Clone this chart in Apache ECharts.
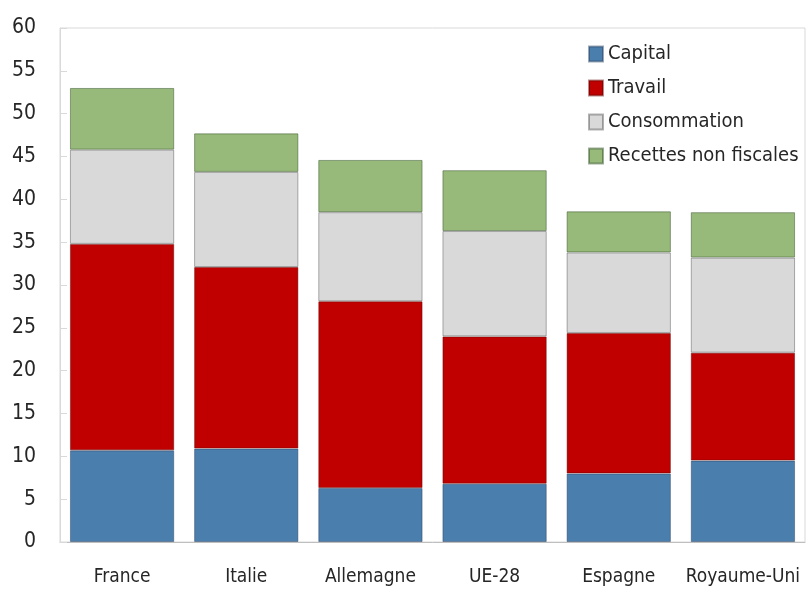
<!DOCTYPE html>
<html>
<head>
<meta charset="utf-8">
<script src="https://cdn.jsdelivr.net/npm/echarts@6/dist/echarts.min.js"></script>
<style>
  html, body { margin: 0; padding: 0; background: #fff; }
  #chart { width: 806px; height: 590px; }
</style>
</head>
<body>
<div id="chart"></div>
<script>
// pays
var countries = ['France', 'Italie', 'Allemagne', 'UE-28', 'Espagne', 'Royaume-Uni'];
// recettes en % du PIB, par composante
var capital = [10.7, 10.9, 6.3, 6.8, 8.0, 9.5];
var travail = [24.1, 21.2, 21.8, 17.2, 16.4, 12.6];
var consommation = [11.0, 11.1, 10.4, 12.3, 9.4, 11.1];
var nonFiscales = [7.2, 4.5, 6.1, 7.1, 4.8, 5.3];
var yTicks = [0, 5, 10, 15, 20, 25, 30, 35, 40, 45, 50, 55, 60];

var font = '"DejaVu Sans Condensed", "Liberation Sans", sans-serif';

var chart = echarts.init(document.getElementById('chart'), null, { renderer: 'canvas' });

function serie(name, data, color, border) {
  return {
    name: name,
    type: 'bar',
    stack: 'total',
    barCategoryGap: '16%',
    data: data,
    itemStyle: {
      color: color,
      borderColor: border,
      borderWidth: 1
    }
  };
}

var option = {
  animation: false,
  grid: {
    left: 60,
    right: 1,
    top: 28,
    bottom: 48,
    show: true,
    borderColor: '#d9d9d9',
    borderWidth: 1
  },
  legend: {
    orient: 'vertical',
    left: 583,
    top: 37,
    icon: 'rect',
    itemWidth: 14,
    itemHeight: 15,
    itemGap: 10,
    textStyle: {
      fontFamily: font,
      fontSize: 20,
      lineHeight: 24,
      color: '#262626'
    },
    data: ['Capital', 'Travail', 'Consommation', 'Recettes non fiscales']
  },
  xAxis: {
    type: 'category',
    data: countries,
    axisLine: { lineStyle: { color: '#bfbfbf' } },
    axisTick: { inside: true, length: 8, lineStyle: { color: '#bfbfbf' } },
    axisLabel: {
      interval: 0,
      margin: 26,
      fontFamily: font,
      fontSize: 19,
      color: '#262626'
    }
  },
  yAxis: {
    type: 'value',
    min: yTicks[0],
    max: yTicks[yTicks.length - 1],
    interval: 5,
    splitLine: { show: false },
    axisLine: { show: true, lineStyle: { color: '#d9d9d9' } },
    axisTick: { show: true, inside: true, length: 7, lineStyle: { color: '#d9d9d9' } },
    axisLabel: {
      margin: 24,
      fontFamily: font,
      fontSize: 21,
      color: '#262626'
    }
  },
  series: [
    serie('Capital', capital, '#4a7ead', 'rgba(40,60,90,0.45)'),
    serie('Travail', travail, '#c00000', 'rgba(90,0,0,0.45)'),
    serie('Consommation', consommation, '#d9d9d9', 'rgba(0,0,0,0.3)'),
    serie('Recettes non fiscales', nonFiscales, '#97b979', 'rgba(40,70,30,0.45)')
  ]
};

chart.setOption(option);
</script>
</body>
</html>
